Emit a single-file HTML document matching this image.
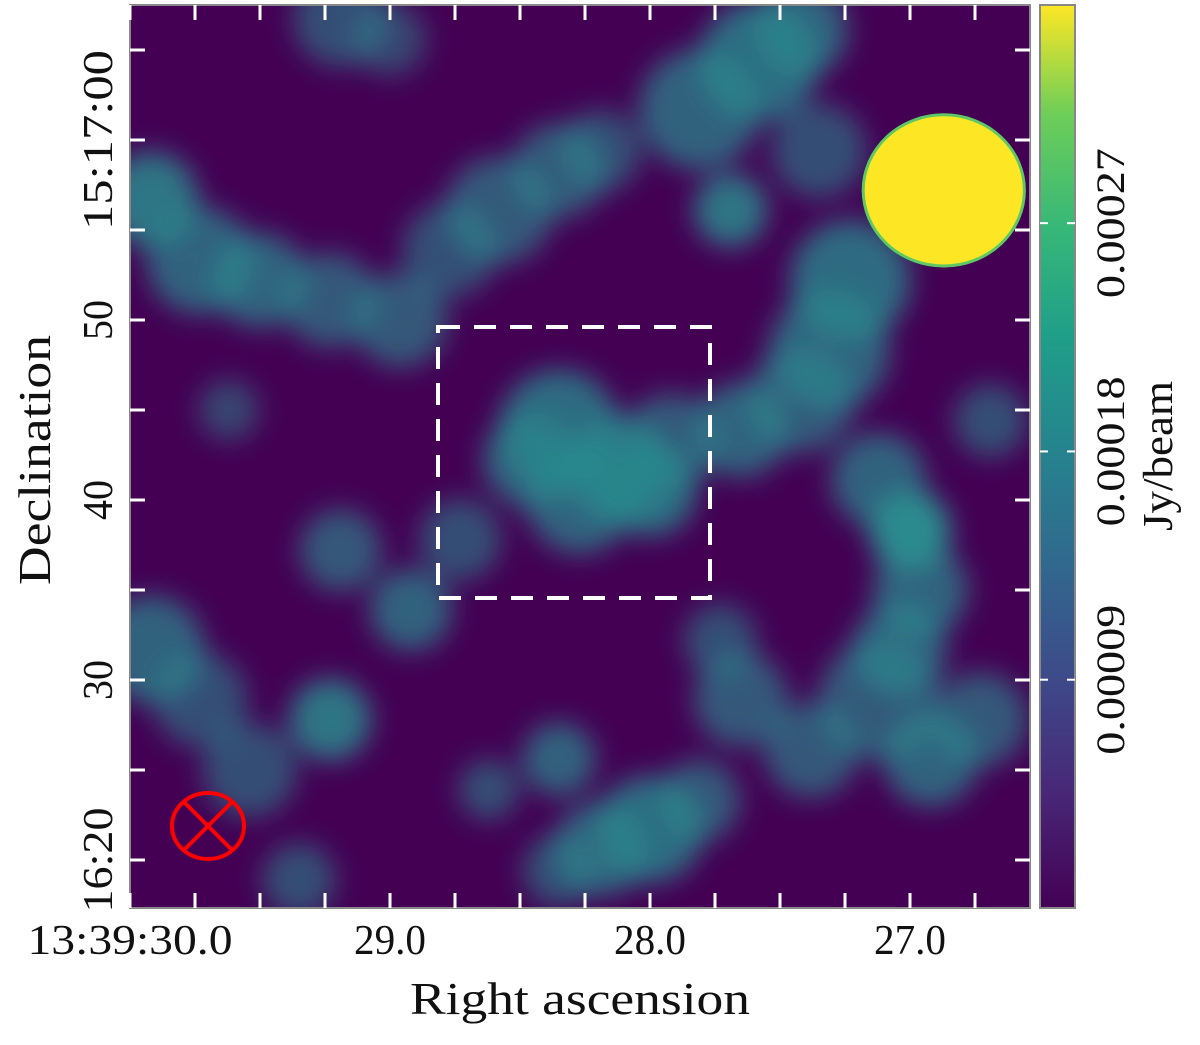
<!DOCTYPE html>
<html><head><meta charset="utf-8"><style>
body{margin:0;background:#fff;}
svg text{font-family:"Liberation Serif",serif;fill:#111;}
</style></head><body>
<svg id="chart" width="1200" height="1040" viewBox="0 0 1200 1040" xmlns="http://www.w3.org/2000/svg">
<defs>
<filter id="blur" x="-20%" y="-20%" width="140%" height="140%"><feGaussianBlur stdDeviation="13"/></filter>
<clipPath id="plotclip"><rect x="130" y="5" width="900" height="903"/></clipPath>
<linearGradient id="viridis" x1="0" y1="1" x2="0" y2="0">
<stop offset="0" stop-color="#440154"/><stop offset="0.13" stop-color="#482878"/>
<stop offset="0.25" stop-color="#3e4989"/><stop offset="0.38" stop-color="#31688e"/>
<stop offset="0.5" stop-color="#26828e"/><stop offset="0.63" stop-color="#1f9e89"/>
<stop offset="0.75" stop-color="#35b779"/><stop offset="0.88" stop-color="#6ece58"/>
<stop offset="1" stop-color="#fde725"/></linearGradient>
</defs>
<g id="plot" clip-path="url(#plotclip)">
<rect x="130" y="5" width="900" height="903" fill="#440154"/>
<g id="blobs" filter="url(#blur)"></g>
<g id="source"></g>
</g>
<rect x="130" y="5" width="900" height="903" fill="none" stroke="#888" stroke-width="2"/>
<g id="ticks"></g>
<g id="overlay"></g>
<rect x="1040" y="5" width="35" height="903" fill="url(#viridis)" stroke="#888" stroke-width="2"/>
<g id="cbticks"></g>
<text x="580" y="1014" font-size="46" text-anchor="middle" textLength="340" lengthAdjust="spacingAndGlyphs">Right ascension</text>
<text transform="translate(50,460) rotate(-90)" font-size="46" text-anchor="middle" textLength="250" lengthAdjust="spacingAndGlyphs">Declination</text>
<text transform="translate(1172,456) rotate(-90)" font-size="42" text-anchor="middle" textLength="150" lengthAdjust="spacingAndGlyphs">Jy/beam</text>
</svg>
<script>
const NS='http://www.w3.org/2000/svg';
const raTicks=[30.0,29.0,28.0,27.0];
const raLabels=['13:39:30.0','29.0','28.0','27.0'];
const raLabelW=[205,72,72,72];
const decTicks=[20,30,40,50,60];
const decLabels=['16:20','30','40','50','15:17:00'];
const decLabelW=[105,40,40,40,180];
const cbTicks=[0.00009,0.00018,0.00027];
const cbLabels=['0.00009','0.00018','0.00027'];
const blobRa=[29.92,29.73,29.5,29.23,28.96,28.77,28.58,28.35,28.19,27.81,27.58,27.42,27.35,27.69,27.23,27.31,27.42,27.65,27.92,28.12,28.35,28.46,28.27,28.0,27.12,27.0,26.96,27.04,27.12,26.92,26.73,26.69,29.19,29.0,29.92,29.73,29.54,29.23,29.19,28.92,28.73,28.35,28.0,27.81,28.35,28.62,29.62,28.19,29.35,27.65,27.38,27.73];
const blobDec=[56.7,53.3,52.2,51.1,50,53.9,56.1,58.3,59.4,61.7,64.4,66.1,59.4,56.1,52.2,48.3,45.6,43.9,43.3,41.7,43.9,42.2,40,40.6,41.1,38.3,35,31.7,28.9,25.6,27.8,44.4,66.7,65.6,31.7,28.9,25,27.8,37.2,33.9,37.8,25.6,21.7,23.3,19.4,23.9,45,20.6,18.9,28.9,26.1,32.2];
const blobR=[2.2,2.5,2.2,2.2,2.2,2.2,2.5,2.2,1.9,2.8,2.8,2.2,2.2,1.7,2.8,2.8,2.5,2.2,2.2,2.5,2.8,2.2,2.5,2.2,2.2,1.9,2.2,2.2,2.8,2.2,2.2,1.7,2.2,1.7,2.5,2.2,2.2,1.9,1.9,1.9,1.9,1.7,2.5,1.9,1.7,1.4,1.4,2.2,1.7,2.2,2.2,1.7];
const blobI=[.6,.5,.5,.45,.45,.4,.45,.45,.4,.5,.55,.5,.4,.6,.55,.5,.45,.5,.45,.55,.55,.5,.5,.55,.5,.75,.5,.5,.45,.5,.45,.4,.4,.35,.5,.4,.4,.6,.45,.5,.4,.5,.55,.45,.4,.4,.35,.5,.4,.45,.45,.4];
const srcRa=[26.87], srcDec=[57.2], srcRa_r=[0.31], srcDec_r=[4.2];
const xS=ra=>130+(30-ra)*260;
const yS=d=>860-(d-20)*18;
const cbY=v=>908-v/0.000356*903;
function mk(tag,attrs,parent,txt){const e=document.createElementNS(NS,tag);for(const k in attrs)e.setAttribute(k,attrs[k]);if(txt!==undefined)e.textContent=txt;parent.appendChild(e);return e;}
const gb=document.getElementById('blobs');
blobRa.forEach((r,i)=>{const c=mk('circle',{cx:xS(r),cy:yS(blobDec[i]),r:blobR[i]*18*1.2,fill:'#2a8a8e','fill-opacity':Math.min(1,blobI[i]*1.4)},gb);

});
const gs=document.getElementById('source');
srcRa.forEach((r,i)=>{const e=mk('ellipse',{cx:xS(r),cy:yS(srcDec[i]),rx:srcRa_r[i]*260,ry:srcDec_r[i]*18,fill:'#fde725',stroke:'#5ec962','stroke-width':3},gs);

});
const gt=document.getElementById('ticks');
for(let ra=30;ra>=26.5;ra-=0.25){const x=xS(ra);
 mk('line',{x1:x,y1:5,x2:x,y2:20,stroke:'#fff','stroke-width':3},gt);
 mk('line',{x1:x,y1:908,x2:x,y2:893,stroke:'#fff','stroke-width':3},gt);}
for(let d=15;d<=67;d+=5){const y=yS(d);
 mk('line',{x1:130,y1:y,x2:145,y2:y,stroke:'#fff','stroke-width':3},gt);
 mk('line',{x1:1030,y1:y,x2:1015,y2:y,stroke:'#fff','stroke-width':3},gt);}
raTicks.forEach((r,i)=>{const t=mk('text',{x:xS(r),y:954,'font-size':42,'text-anchor':'middle',textLength:raLabelW[i],lengthAdjust:'spacingAndGlyphs'},gt,raLabels[i]);

});
decTicks.forEach((d,i)=>{const t=mk('text',{transform:`translate(112,${yS(d)}) rotate(-90)`,'font-size':42,'text-anchor':'middle',textLength:decLabelW[i],lengthAdjust:'spacingAndGlyphs'},gt,decLabels[i]);

});
const gc=document.getElementById('cbticks');
cbTicks.forEach((v,i)=>{const y=cbY(v);
 mk('line',{x1:1040,y1:y,x2:1048,y2:y,stroke:'#fff','stroke-width':2},gc);
 mk('line',{x1:1075,y1:y,x2:1067,y2:y,stroke:'#fff','stroke-width':2},gc);
 const t=mk('text',{transform:`translate(1124,${y}) rotate(-90)`,'font-size':40,'text-anchor':'middle',textLength:150,lengthAdjust:'spacingAndGlyphs'},gc,cbLabels[i]);
 
 });
const go=document.getElementById('overlay');
const box=mk('rect',{x:438,y:327,width:272,height:271,fill:'none',stroke:'#fff','stroke-width':4,'stroke-dasharray':'22,14'},go);


const beam=mk('g',{},go);


mk('ellipse',{cx:208,cy:826,rx:36,ry:33,fill:'none',stroke:'#f00','stroke-width':4},beam);
mk('line',{x1:184,y1:802,x2:232,y2:850,stroke:'#f00','stroke-width':4},beam);
mk('line',{x1:232,y1:802,x2:184,y2:850,stroke:'#f00','stroke-width':4},beam);
</script>
</body></html>
